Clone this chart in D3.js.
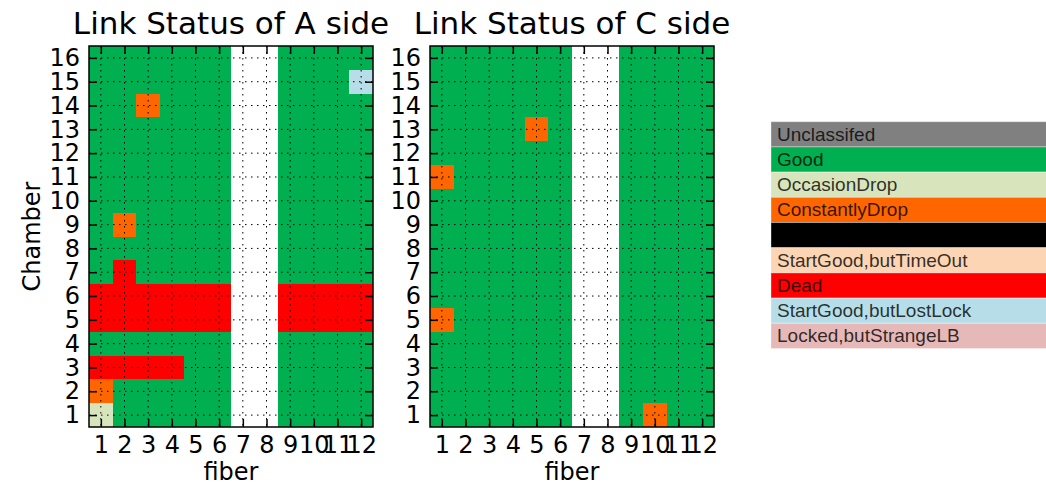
<!DOCTYPE html>
<html>
<head>
<meta charset="utf-8">
<script src="https://cdn.jsdelivr.net/npm/d3@7"></script>
<style>
  body { margin: 0; background: #fff; }
  svg { display: block; }
  .tick text { font-family: "DejaVu Sans", sans-serif; font-size: 24px; fill: #000; }
  .tick line { stroke: #000; stroke-width: 1.5; }
  .title { font-family: "DejaVu Sans", sans-serif; font-size: 31px; fill: #000; }
  .alabel { font-family: "DejaVu Sans", sans-serif; font-size: 24px; fill: #000; }
  .legtext { font-family: "Liberation Sans", Arial, sans-serif; font-size: 19px; fill: #000; fill-opacity: 0.8; }
</style>
</head>
<body>
<div id="chart"></div>
<script>
// status codes: index into statusNames / statusColors, null = no fiber
var statusNames = ["Unclassifed", "Good", "OccasionDrop", "ConstantlyDrop", "", "StartGood,butTimeOut", "Dead", "StartGood,butLostLock", "Locked,butStrangeLB"];
var statusColors = ["#808080", "#00B050", "#D8E4BC", "#FF6600", "#000000", "#FCD5B4", "#FF0000", "#B7DEE8", "#E6B8B7"];

var fibers = [1, 2, 3, 4, 5, 6, 7, 8, 9, 10, 11, 12];
var chambers = [16, 15, 14, 13, 12, 11, 10, 9, 8, 7, 6, 5, 4, 3, 2, 1];

// rows = chamber 16 .. 1, columns = fiber 1 .. 12
var aSide = [
    [1, 1, 1, 1, 1, 1, null, null, 1, 1, 1, 1],
    [1, 1, 1, 1, 1, 1, null, null, 1, 1, 1, 7],
    [1, 1, 3, 1, 1, 1, null, null, 1, 1, 1, 1],
    [1, 1, 1, 1, 1, 1, null, null, 1, 1, 1, 1],
    [1, 1, 1, 1, 1, 1, null, null, 1, 1, 1, 1],
    [1, 1, 1, 1, 1, 1, null, null, 1, 1, 1, 1],
    [1, 1, 1, 1, 1, 1, null, null, 1, 1, 1, 1],
    [1, 3, 1, 1, 1, 1, null, null, 1, 1, 1, 1],
    [1, 1, 1, 1, 1, 1, null, null, 1, 1, 1, 1],
    [1, 6, 1, 1, 1, 1, null, null, 1, 1, 1, 1],
    [6, 6, 6, 6, 6, 6, null, null, 6, 6, 6, 6],
    [6, 6, 6, 6, 6, 6, null, null, 6, 6, 6, 6],
    [1, 1, 1, 1, 1, 1, null, null, 1, 1, 1, 1],
    [6, 6, 6, 6, 1, 1, null, null, 1, 1, 1, 1],
    [3, 1, 1, 1, 1, 1, null, null, 1, 1, 1, 1],
    [2, 1, 1, 1, 1, 1, null, null, 1, 1, 1, 1]
];
var cSide = [
    [1, 1, 1, 1, 1, 1, null, null, 1, 1, 1, 1],
    [1, 1, 1, 1, 1, 1, null, null, 1, 1, 1, 1],
    [1, 1, 1, 1, 1, 1, null, null, 1, 1, 1, 1],
    [1, 1, 1, 1, 3, 1, null, null, 1, 1, 1, 1],
    [1, 1, 1, 1, 1, 1, null, null, 1, 1, 1, 1],
    [3, 1, 1, 1, 1, 1, null, null, 1, 1, 1, 1],
    [1, 1, 1, 1, 1, 1, null, null, 1, 1, 1, 1],
    [1, 1, 1, 1, 1, 1, null, null, 1, 1, 1, 1],
    [1, 1, 1, 1, 1, 1, null, null, 1, 1, 1, 1],
    [1, 1, 1, 1, 1, 1, null, null, 1, 1, 1, 1],
    [1, 1, 1, 1, 1, 1, null, null, 1, 1, 1, 1],
    [3, 1, 1, 1, 1, 1, null, null, 1, 1, 1, 1],
    [1, 1, 1, 1, 1, 1, null, null, 1, 1, 1, 1],
    [1, 1, 1, 1, 1, 1, null, null, 1, 1, 1, 1],
    [1, 1, 1, 1, 1, 1, null, null, 1, 1, 1, 1],
    [1, 1, 1, 1, 1, 1, null, null, 1, 3, 1, 1]
];

var width = 1046, height = 484;
var plotW = 284, plotH = 381;

var svg = d3.select("#chart").append("svg")
    .attr("width", width)
    .attr("height", height);

var x = d3.scaleLinear().domain([0.5, 12.5]).range([0, plotW]);
var y = d3.scaleLinear().domain([0.5, 16.5]).range([plotH, 0]);

function drawPanel(left, top, grid, title, showYLabel) {
    var g = svg.append("g").attr("transform", "translate(" + left + "," + top + ")");

    var cells = [];
    grid.forEach(function(row, i) {
        row.forEach(function(v, j) {
            if (v !== null) cells.push({ fiber: fibers[j], chamber: chambers[i], status: v });
        });
    });

    g.selectAll("rect.cell")
        .data(cells)
        .enter().append("rect")
        .attr("class", "cell")
        .attr("x", function(d) { return x(d.fiber - 0.5); })
        .attr("y", function(d) { return y(d.chamber + 0.5); })
        .attr("width", function(d) { return x(d.fiber + 0.5) - x(d.fiber - 0.5); })
        .attr("height", function(d) { return y(d.chamber - 0.5) - y(d.chamber + 0.5); })
        .attr("fill", function(d) { return statusColors[d.status]; })
        .attr("shape-rendering", "crispEdges");

    // dotted grid
    g.append("g").selectAll("line")
        .data(fibers)
        .enter().append("line")
        .attr("x1", function(d) { return x(d); })
        .attr("x2", function(d) { return x(d); })
        .attr("y1", 0).attr("y2", plotH)
        .attr("stroke", "#000").attr("stroke-width", 1)
        .attr("stroke-dasharray", "1.5,4.5");
    g.append("g").selectAll("line")
        .data(chambers)
        .enter().append("line")
        .attr("y1", function(d) { return y(d); })
        .attr("y2", function(d) { return y(d); })
        .attr("x1", 0).attr("x2", plotW)
        .attr("stroke", "#000").attr("stroke-width", 1)
        .attr("stroke-dasharray", "1.5,4.5");

    var bottom = g.append("g").attr("transform", "translate(0," + plotH + ")")
        .call(d3.axisBottom(x).tickValues(fibers).tickFormat(d3.format("d"))
            .tickSizeInner(-8).tickSizeOuter(0).tickPadding(9));
    var leftAx = g.append("g")
        .call(d3.axisLeft(y).tickValues(chambers).tickFormat(d3.format("d"))
            .tickSizeInner(-8).tickSizeOuter(0).tickPadding(9));
    var topAx = g.append("g")
        .call(d3.axisTop(x).tickValues(fibers).tickFormat("")
            .tickSizeInner(-8).tickSizeOuter(0));
    var rightAx = g.append("g").attr("transform", "translate(" + plotW + ",0)")
        .call(d3.axisRight(y).tickValues(chambers).tickFormat("")
            .tickSizeInner(-8).tickSizeOuter(0));
    [bottom, leftAx, topAx, rightAx].forEach(function(a) {
        a.select(".domain").remove();
        a.attr("font-family", null).attr("font-size", null);
    });

    g.append("rect")
        .attr("width", plotW).attr("height", plotH)
        .attr("fill", "none").attr("stroke", "#000").attr("stroke-width", 1.5);

    g.append("text")
        .attr("class", "title")
        .attr("x", plotW / 2).attr("y", -12)
        .attr("text-anchor", "middle")
        .text(title);

    g.append("text")
        .attr("class", "alabel")
        .attr("x", plotW / 2).attr("y", plotH + 53)
        .attr("text-anchor", "middle")
        .text("fiber");

    if (showYLabel) {
        g.append("text")
            .attr("class", "alabel")
            .attr("transform", "translate(-49," + (plotH / 2) + ")rotate(-90)")
            .attr("text-anchor", "middle")
            .text("Chamber");
    }
}

drawPanel(89, 46, aSide, "Link Status of A side", true);
drawPanel(430, 46, cSide, "Link Status of C side", false);

// legend
var legTop = 121.7, rowH = 25.2, legLeft = 771;
var leg = svg.append("g");
leg.selectAll("rect")
    .data(statusNames)
    .enter().append("rect")
    .attr("x", legLeft)
    .attr("y", function(d, i) { return legTop + i * rowH; })
    .attr("width", 290)
    .attr("height", rowH)
    .attr("fill", function(d, i) { return statusColors[i]; })
    .attr("stroke", "#fff").attr("stroke-opacity", 0.35).attr("stroke-width", 1);
leg.selectAll("text")
    .data(statusNames)
    .enter().append("text")
    .attr("class", "legtext")
    .attr("x", legLeft + 6)
    .attr("y", function(d, i) { return legTop + i * rowH + 19; })
    .text(function(d) { return d; });
</script>
</body>
</html>
